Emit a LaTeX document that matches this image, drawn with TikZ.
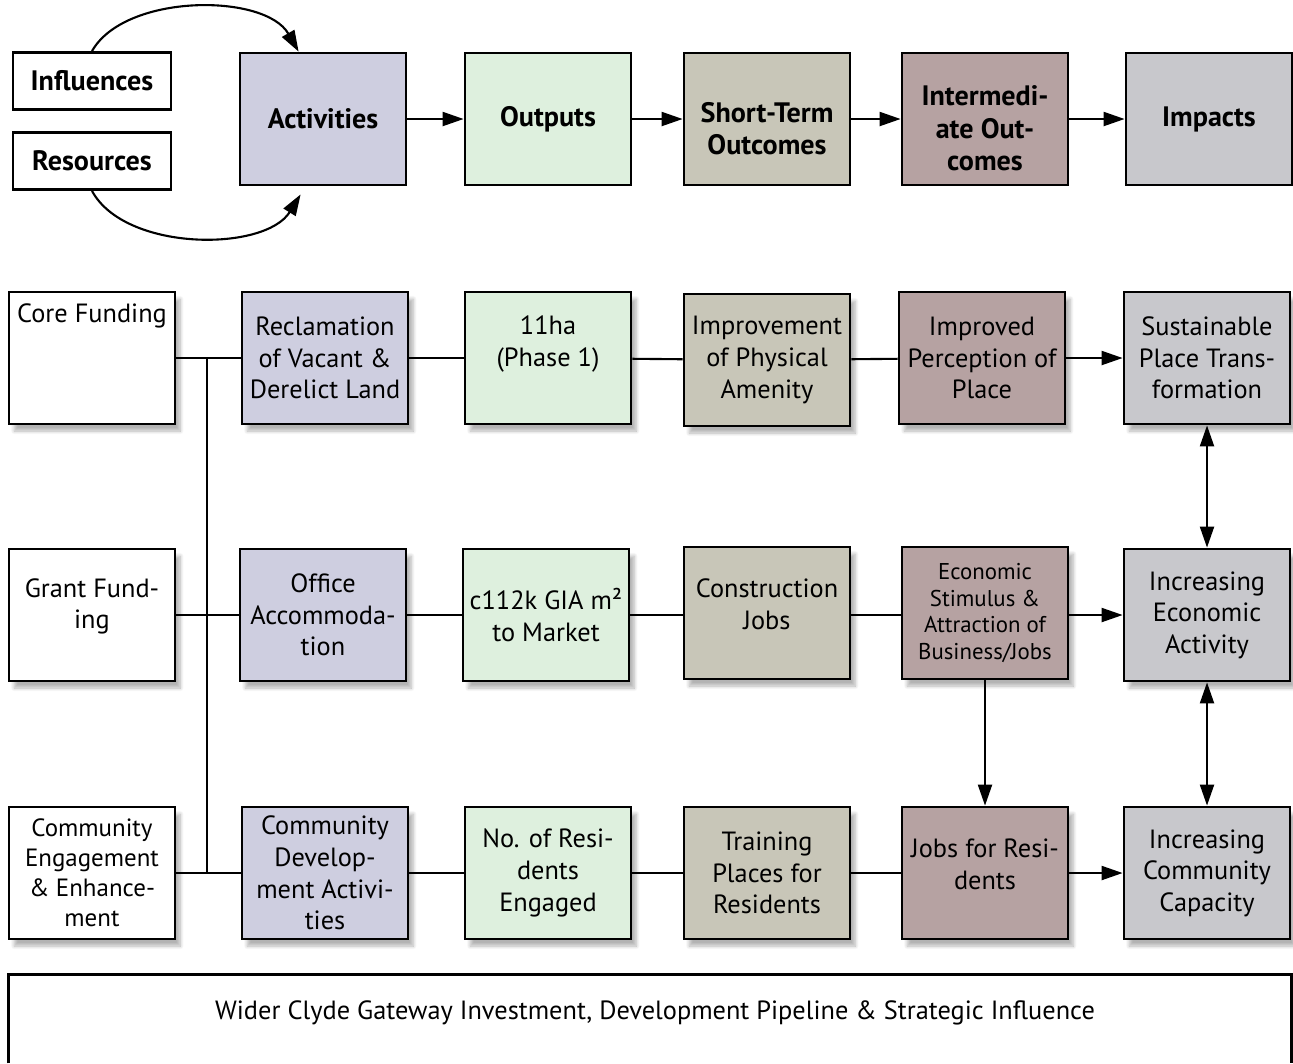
\documentclass[tikz,border=0pt]{standalone}
\usepackage{fontspec}
\setmainfont{PT Sans}
\usetikzlibrary{arrows.meta, positioning, calc, shadows.blur}
\definecolor{actcolor}{RGB}{206,206,224}
\definecolor{outcolor}{RGB}{222,240,222}
\definecolor{shortcolor}{RGB}{200,198,184}
\definecolor{midcolor}{RGB}{182,162,162}
\definecolor{impcolor}{RGB}{200,200,204}

\tikzset{
  base/.style={draw, line width=1.6pt, minimum width=3.32cm, minimum height=2.64cm,
    align=center, inner sep=2pt, font=\fontsize{15}{18}\selectfont},
  headbox/.style={base, font=\bfseries\fontsize{16}{18.5}\selectfont},
  smallbox/.style={headbox, minimum width=3.16cm, minimum height=1.14cm, fill=white},
  rowbox/.style={base, fill=white, blur shadow={shadow xshift=3pt, shadow yshift=-4pt,
    shadow blur steps=8, shadow opacity=30}},
  boxtext/.style={font=\fontsize{15}{18}\selectfont, align=center},
  headtext/.style={font=\bfseries\fontsize{16}{18.5}\selectfont, align=center},
  raised/.style={label={[boxtext, yshift=5pt]center:#1}},
  lowered/.style={label={[headtext, yshift=-5.5pt]center:#1}},
  link/.style={line width=1.2pt},
  frame/.style={line width=1.6pt},
  flow/.style={link, -{Triangle[length=12pt,width=8pt]}},
  twoway/.style={link, {Triangle[length=12pt,width=8pt]}-{Triangle[length=12pt,width=8pt]}}
}

\begin{document}
\begin{tikzpicture}[x=0.02cm, y=-0.02cm]
\useasboundingbox (0,0) rectangle (1293,1063);

% logic model header
\node[smallbox] (infl) at (92,81) {Influences};
\node[smallbox] (res) at (92,161) {Resources};
\node[headbox, fill=actcolor] (act) at (323,119) {Activities};
\node[headbox, fill=outcolor] (outp) at (548,119) {Outputs};
\node[headbox, fill=shortcolor, lowered={Short-Term\\Outcomes}] (short) at (767,119) {};
\node[headbox, fill=midcolor, lowered={Intermedi-\\ate Out-\\comes}] (inter) at (985,119) {};
\node[headbox, fill=impcolor] (imp) at (1209,119) {Impacts};

\foreach \a/\b in {act/outp, outp/short, short/inter, inter/imp}
  \draw[flow] (\a) -- (\b);
\draw[flow] (infl.north) .. controls (125,-7) and (265,-7) .. ($(act.north west)+(60,0)$);
\draw[flow] (res.south) .. controls (125,252) and (265,252) .. ($(act.south west)+(62,8)$);

% row 1
\node[rowbox, label={[boxtext, anchor=north, inner sep=7pt]north:Core Funding}] (core) at (92,358) {};
\node[rowbox, fill=actcolor] (recl) at (325,358) {Reclamation\\of Vacant \&\\Derelict Land};
\node[rowbox, fill=outcolor, label={[boxtext, yshift=8pt]center:11ha\\(Phase 1)}] (ha) at (548,358) {};
\node[rowbox, fill=shortcolor] (impr) at (767,360) {Improvement\\of Physical\\Amenity};
\node[rowbox, fill=midcolor] (perc) at (982,358) {Improved\\Perception of\\Place};
\node[rowbox, fill=impcolor] (sust) at (1207,358) {Sustainable\\Place Trans-\\formation};

% row 2
\node[rowbox, raised={Grant Fund-\\ing}] (grant) at (92,615) {};
\node[rowbox, fill=actcolor] (office) at (323,615) {Office\\Accommoda-\\tion};
\node[rowbox, fill=outcolor] (gia) at (546,615) {c112k GIA m²\\to Market};
\node[rowbox, fill=shortcolor, raised={Construction\\Jobs}] (cons) at (767,613) {};
\node[rowbox, fill=midcolor, font=\fontsize{13}{15.3}\selectfont] (econ) at (985,613) {Economic\\Stimulus \&\\Attraction of\\Business/Jobs};
\node[rowbox, fill=impcolor] (incecon) at (1207,615) {Increasing\\Economic\\Activity};

% row 3
\node[rowbox, font=\fontsize{14.2}{17}\selectfont] (ceng) at (92,873) {Community\\Engagement\\\& Enhance-\\ment};
\node[rowbox, fill=actcolor] (cdev) at (325,873) {Community\\Develop-\\ment Activi-\\ties};
\node[rowbox, fill=outcolor] (nres) at (548,873) {No. of Resi-\\dents\\Engaged};
\node[rowbox, fill=shortcolor] (train) at (767,873) {Training\\Places for\\Residents};
\node[rowbox, fill=midcolor, raised={Jobs for Resi-\\dents}] (jobs) at (985,873) {};
\node[rowbox, fill=impcolor] (inccom) at (1207,873) {Increasing\\Community\\Capacity};

% funding bus
\coordinate (bustop) at (207,358);
\coordinate (busbot) at (207,873);
\draw[link] (bustop) -- (busbot);
\draw[link] (core) -- (recl);
\draw[link] (grant) -- (office);
\draw[link] (ceng) -- (cdev);

% chains
\foreach \a/\b in {recl/ha, ha/impr, impr/perc, cdev/nres, nres/train, train/jobs}
  \draw[link] (\a) -- (\b);
\foreach \a/\b in {office/gia, gia/cons, cons/econ}
  \draw[link] (\a.east |- 0,615) -- (\b.west |- 0,615);
\draw[flow] (perc) -- (sust);
\draw[flow] (econ.east |- 0,615) -- (incecon.west |- 0,615);
\draw[flow] (jobs) -- (inccom);
\draw[flow] (econ) -- (jobs);
\draw[twoway] (sust) -- (incecon);
\draw[twoway] (incecon) -- (inccom);

% wider context, cut off at the page foot
\node[minimum width=25.64cm, minimum height=1.76cm] (wider) at (650,1019) {};
\draw[frame] (wider.south west) |- (wider.north east) -- (wider.south east);
\node[boxtext] (widertxt) at (655,1013) {Wider Clyde Gateway Investment, Development Pipeline \& Strategic Influence};
\end{tikzpicture}
\end{document}
